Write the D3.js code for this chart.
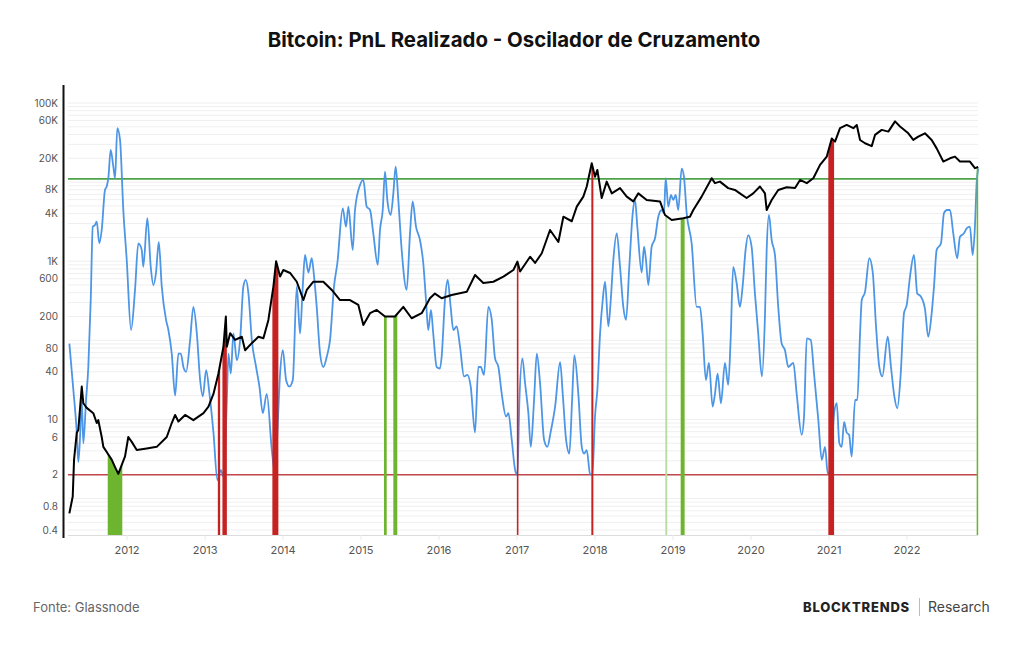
<!DOCTYPE html>
<html>
<head>
<meta charset="utf-8">
<script src="https://cdn.jsdelivr.net/npm/d3@7"></script>
<style>
  body { margin: 0; background: #fff; }
  svg { display: block; font-family: Inter, "Noto Sans", sans-serif; }
</style>
</head>
<body>
<div id="chart"></div>
<script>
// y axis tick labels (log scale)
const yTicks = [0.4, 0.8, 2, 6, 10, 40, 80, 200, 600, 1000, 4000, 8000, 20000, 60000, 100000];
const years = [2012, 2013, 2014, 2015, 2016, 2017, 2018, 2019, 2020, 2021, 2022];

// oscillator bands
const upperBand = 11000;
const lowerBand = 2;

// BTC price [decimal year, USD]
const price = [
  [2011.267,0.65],[2011.310,1.06],[2011.327,3.1],[2011.362,6.8],[2011.382,7.4],[2011.426,26],[2011.446,16],
  [2011.490,14],[2011.574,12],[2011.618,9],[2011.638,9.8],[2011.682,6],[2011.703,4.5],[2011.767,3.6],
  [2011.810,3.1],[2011.853,2.5],[2011.895,2.05],[2011.938,2.65],[2011.981,3.4],[2012.023,6],[2012.067,5.2],
  [2012.131,4.1],[2012.259,4.3],[2012.387,4.5],[2012.515,6],[2012.579,9],[2012.622,11.4],[2012.664,9.4],
  [2012.750,11.4],[2012.856,9.8],[2012.985,12],[2013.049,14.5],[2013.113,21],[2013.177,38],[2013.241,83],
  [2013.272,200],[2013.285,83],[2013.327,123],[2013.391,101],[2013.477,111],[2013.519,75],[2013.605,92],
  [2013.690,111],[2013.754,106],[2013.818,181],[2013.882,478],[2013.917,1000],[2013.968,640],[2014.010,775],
  [2014.096,710],[2014.182,550],[2014.267,323],[2014.310,433],[2014.395,550],[2014.523,550],[2014.631,433],
  [2014.737,323],[2014.865,323],[2014.972,280],[2015.036,156],[2015.122,220],[2015.208,242],[2015.314,200],
  [2015.442,200],[2015.549,265],[2015.656,190],[2015.785,220],[2015.891,340],[2015.955,390],[2016.041,340],
  [2016.169,374],[2016.362,410],[2016.468,670],[2016.574,530],[2016.703,550],[2016.831,640],[2016.959,775],
  [2017.010,990],[2017.045,740],[2017.173,1140],[2017.237,950],[2017.323,1260],[2017.429,2480],[2017.536,1750],
  [2017.600,3650],[2017.708,3200],[2017.772,4900],[2017.856,6550],[2017.900,8800],[2017.964,17300],
  [2018.006,11700],[2018.036,14250],[2018.092,6300],[2018.156,10150],[2018.221,7200],[2018.327,8400],
  [2018.413,6550],[2018.497,5700],[2018.562,7200],[2018.669,5950],[2018.840,5700],[2018.904,3840],
  [2018.990,3320],[2019.138,3500],[2019.224,3650],[2019.267,4440],[2019.374,6550],[2019.503,11200],
  [2019.545,9700],[2019.609,10150],[2019.715,8400],[2019.801,7960],[2019.865,7200],[2019.951,6300],
  [2020.036,7200],[2020.122,8800],[2020.186,7200],[2020.208,4440],[2020.272,5950],[2020.356,7960],
  [2020.464,8600],[2020.571,8400],[2020.635,10650],[2020.721,9700],[2020.805,11200],[2020.891,16500],
  [2020.977,21000],[2021.041,35500],[2021.083,32500],[2021.147,48000],[2021.233,52800],[2021.318,48000],
  [2021.362,52800],[2021.404,34100],[2021.468,31000],[2021.554,28500],[2021.596,39500],[2021.682,45700],
  [2021.767,43500],[2021.853,58500],[2021.917,50500],[2022.023,41400],[2022.087,34100],[2022.151,37500],
  [2022.237,41400],[2022.323,34100],[2022.387,26700],[2022.472,18200],[2022.558,20000],[2022.622,21000],
  [2022.686,18200],[2022.814,18200],[2022.878,15000],[2022.920,15500]
];

// realized PnL crossover oscillator [decimal year, value]
const oscillator = [
  [2011.267,91],[2011.318,23.6],[2011.362,6.8],[2011.382,2.9],[2011.404,6],[2011.426,17.6],[2011.446,5],
  [2011.481,17.6],[2011.510,46],[2011.541,323],[2011.567,2730],[2011.596,2870],[2011.618,3170],[2011.651,1680],
  [2011.682,2480],[2011.724,7960],[2011.746,8800],[2011.767,11200],[2011.797,25500],[2011.831,15700],
  [2011.853,11200],[2011.882,48000],[2011.917,34100],[2011.959,4440],[2012.003,1035],[2012.058,135],
  [2012.109,433],[2012.151,1680],[2012.195,1390],[2012.215,850],[2012.267,3500],[2012.310,850],[2012.344,500],
  [2012.378,720],[2012.413,1750],[2012.451,480],[2012.506,181],[2012.536,135],[2012.579,68],[2012.622,20],
  [2012.664,68],[2012.695,68],[2012.728,46],[2012.763,40],[2012.814,101],[2012.856,265],[2012.900,122],
  [2012.942,31.5],[2012.977,19.5],[2013.019,42],[2013.062,21],[2013.113,6.8],[2013.164,1.71],[2013.208,2.29],
  [2013.241,1.9],[2013.285,17.6],[2013.305,68],[2013.336,38],[2013.369,122],[2013.413,56],[2013.455,101],
  [2013.497,480],[2013.528,580],[2013.562,390],[2013.605,101],[2013.660,46],[2013.703,26],[2013.746,12],
  [2013.797,21],[2013.862,4.1],[2013.904,2.05],[2013.933,6.8],[2013.968,38],[2014.003,75],[2014.045,31.5],
  [2014.087,26],[2014.131,31.5],[2014.182,480],[2014.224,122],[2014.259,480],[2014.288,1200],[2014.331,720],
  [2014.374,1090],[2014.404,640],[2014.438,265],[2014.481,68],[2014.523,46],[2014.567,62],[2014.609,101],
  [2014.660,480],[2014.703,950],[2014.772,4650],[2014.814,2730],[2014.844,4900],[2014.900,1390],[2014.929,4440],
  [2014.994,9200],[2015.036,10650],[2015.079,4900],[2015.122,4440],[2015.164,2250],[2015.221,900],
  [2015.250,2480],[2015.285,4440],[2015.314,13600],[2015.344,5950],[2015.387,3840],[2015.421,7200],
  [2015.451,15700],[2015.485,5950],[2015.528,1390],[2015.592,433],[2015.635,2250],[2015.669,5700],
  [2015.712,2730],[2015.763,1850],[2015.805,950],[2015.840,323],[2015.869,135],[2015.904,242],[2015.933,122],
  [2015.977,46],[2016.019,44],[2016.041,62],[2016.083,323],[2016.118,580],[2016.156,265],[2016.190,135],
  [2016.233,150],[2016.276,83],[2016.327,35],[2016.369,36.5],[2016.413,26],[2016.468,6.8],[2016.510,46],
  [2016.541,46],[2016.583,36.5],[2016.638,265],[2016.682,181],[2016.724,59],[2016.767,46],[2016.810,21],
  [2016.865,10.9],[2016.895,12],[2016.938,5.5],[2016.981,2.29],[2017.010,1.98],[2017.036,17.6],[2017.074,59],
  [2017.109,28.5],[2017.151,12],[2017.182,4.5],[2017.224,17.6],[2017.259,68],[2017.301,28.5],[2017.353,5.5],
  [2017.395,4.5],[2017.438,7],[2017.494,14.5],[2017.558,53],[2017.592,21],[2017.635,5.5],[2017.677,3.7],
  [2017.712,17.6],[2017.741,65],[2017.792,21],[2017.836,4.5],[2017.865,3.7],[2017.900,4.1],[2017.942,2.05],
  [2017.972,1.98],[2018.006,10.9],[2018.036,23.6],[2018.071,122],[2018.105,323],[2018.135,550],[2018.177,150],
  [2018.208,323],[2018.241,1035],[2018.285,2250],[2018.327,850],[2018.369,265],[2018.404,181],[2018.446,850],
  [2018.490,4050],[2018.519,5950],[2018.549,2730],[2018.605,720],[2018.635,1530],[2018.660,1035],
  [2018.690,500],[2018.733,1530],[2018.776,1950],[2018.818,3650],[2018.862,4440],[2018.891,4050],
  [2018.913,11200],[2018.946,4900],[2018.981,6880],[2019.010,5950],[2019.041,6880],[2019.074,4440],
  [2019.118,14800],[2019.147,11700],[2019.182,4050],[2019.246,1680],[2019.310,265],[2019.353,265],
  [2019.387,122],[2019.429,31.5],[2019.468,52],[2019.515,14.5],[2019.545,21],[2019.579,38],[2019.622,16],
  [2019.673,52],[2019.715,27.3],[2019.746,101],[2019.779,850],[2019.823,530],[2019.865,265],[2019.900,480],
  [2019.938,1390],[2019.972,2140],[2020.015,1530],[2020.058,390],[2020.100,122],[2020.147,35],[2020.186,200],
  [2020.208,1390],[2020.237,3840],[2020.272,1850],[2020.314,1200],[2020.356,265],[2020.400,91],[2020.442,75],
  [2020.485,46],[2020.549,52],[2020.592,21],[2020.656,6.4],[2020.686,10.9],[2020.721,106],[2020.772,101],
  [2020.814,38],[2020.869,9.8],[2020.913,3.07],[2020.955,4.5],[2020.990,2.05],[2021.028,2.5],[2021.071,12],
  [2021.105,16],[2021.138,5],[2021.169,4.5],[2021.199,9.3],[2021.233,6.8],[2021.263,6.4],[2021.297,3.4],
  [2021.340,17.6],[2021.369,17.6],[2021.404,122],[2021.426,323],[2021.468,410],[2021.523,1090],[2021.567,720],
  [2021.609,150],[2021.651,46],[2021.690,35],[2021.759,111],[2021.801,46],[2021.844,19.5],[2021.882,13.8],
  [2021.926,38],[2021.968,220],[2022.003,280],[2022.045,640],[2022.096,1200],[2022.138,390],[2022.182,360],
  [2022.237,250],[2022.279,111],[2022.323,220],[2022.353,480],[2022.387,1390],[2022.442,1680],[2022.481,4050],
  [2022.519,4440],[2022.558,4440],[2022.600,2250],[2022.651,1090],[2022.686,2040],[2022.737,2250],
  [2022.772,2600],[2022.814,2730],[2022.849,1200],[2022.878,2730],[2022.900,9700],[2022.920,14800]
];

// crossover signals [start, end, kind]
const signals = [
  [2011.759, 2011.946, "buy"],
  [2013.169, 2013.199, "sell"],
  [2013.228, 2013.285, "sell"],
  [2013.869, 2013.946, "sell"],
  [2015.301, 2015.336, "buy"],
  [2015.421, 2015.472, "buy"],
  [2017.003, 2017.023, "sell"],
  [2017.959, 2017.985, "sell"],
  [2018.908, 2018.933, "weak"],
  [2019.105, 2019.156, "buy"],
  [2020.997, 2021.071, "sell"],
  [2022.900, 2022.933, "buy"]
];

const colors = { sell: "#c62222", buy: "#6db52f", weak: "#b9dda0" };

const toDate = t => {
  const yr = Math.floor(t);
  const a = Date.UTC(yr, 0, 1), b = Date.UTC(yr + 1, 0, 1);
  return new Date(a + (t - yr) * (b - a));
};

let width = 1024,
  height = 645,
  plot = ({ left: 68, right: 978, top: 85, bottom: 535 });

let x = d3.scaleUtc()
  .domain([toDate(2012), toDate(2022)])
  .range([126.5, 906.5]);

let y = d3.scaleLog()
  .domain([0.4, 100000])
  .range([530, 103]);

const svg = d3.select("#chart")
  .append("svg")
  .attr("width", width)
  .attr("height", height)
  .attr("viewBox", [0, 0, width, height]);

// title
svg.append("text")
  .attr("x", 514)
  .attr("y", 47)
  .attr("text-anchor", "middle")
  .attr("font-size", 20.4)
  .attr("font-weight", 700)
  .attr("fill", "#111")
  .text("Bitcoin: PnL Realizado - Oscilador de Cruzamento");

// faint log gridlines
let grid = [];
for (let e = -1; e <= 5; e++)
  for (let m = 1; m <= 9; m++) {
    let v = m * Math.pow(10, e);
    if (y(v) <= plot.bottom - 2 && y(v) >= plot.top + 8) grid.push(v);
  }

svg.append("g")
  .selectAll("line")
  .data(grid)
  .join("line")
  .attr("x1", plot.left)
  .attr("x2", plot.right)
  .attr("y1", d => y(d))
  .attr("y2", d => y(d))
  .attr("stroke", "#efefef")
  .attr("stroke-width", 1);

// x axis
svg.append("g")
  .attr("transform", `translate(0,${plot.bottom})`)
  .call(d3.axisBottom(x)
    .tickValues(years.map(toDate))
    .tickFormat(d3.utcFormat("%Y"))
    .tickSize(5)
    .tickPadding(6))
  .call(g => g.select(".domain")
    .attr("d", `M${plot.left},0.5H${plot.right}`)
    .attr("stroke", "#dcdcdc"))
  .call(g => g.selectAll(".tick line").attr("stroke", "#eaeaea"))
  .call(g => g.selectAll(".tick text")
    .attr("font-family", "Inter, sans-serif")
    .attr("font-size", 11)
    .attr("fill", "#555"));

// y axis labels
svg.append("g")
  .attr("transform", `translate(${plot.left - 5},0)`)
  .call(d3.axisLeft(y)
    .tickValues(yTicks)
    .tickFormat(d => d >= 1000 ? d / 1000 + "K" : d)
    .tickSize(0)
    .tickPadding(5))
  .call(g => g.select(".domain").remove())
  .call(g => g.selectAll(".tick text")
    .attr("font-family", "Inter, sans-serif")
    .attr("font-size", 10)
    .attr("fill", "#555"));

svg.append("line")
  .attr("x1", 63.5).attr("x2", 63.5)
  .attr("y1", plot.top).attr("y2", plot.bottom + 3)
  .attr("stroke", "#111")
  .attr("stroke-width", 2);

// band lines
svg.append("line")
  .attr("x1", plot.left).attr("x2", plot.right)
  .attr("y1", y(upperBand)).attr("y2", y(upperBand))
  .attr("stroke", "#4ea34a").attr("stroke-width", 1.6);

svg.append("line")
  .attr("x1", plot.left).attr("x2", plot.right)
  .attr("y1", y(lowerBand)).attr("y2", y(lowerBand))
  .attr("stroke", "#c0474a").attr("stroke-width", 1.6);

// oscillator
let oscLine = d3.line()
  .x(d => x(toDate(d[0])))
  .y(d => y(d[1]))
  .curve(d3.curveMonotoneX);

svg.append("path")
  .datum(oscillator)
  .attr("fill", "none")
  .attr("stroke", "#4d96e6")
  .attr("stroke-width", 1.8)
  .attr("d", oscLine);

// signal bars: area under the price clipped to each signal window
let under = d3.area()
  .x(d => x(toDate(d[0])))
  .y0(plot.bottom)
  .y1(d => y(d[1]));

for (let kind of ["weak", "buy", "sell"]) {
  let id = "clip-" + kind;
  svg.append("clipPath")
    .attr("id", id)
    .selectAll("rect")
    .data(signals.filter(s => s[2] === kind))
    .join("rect")
    .attr("x", d => x(toDate(d[0])))
    .attr("width", d => Math.max(1.6, x(toDate(d[1])) - x(toDate(d[0]))))
    .attr("y", plot.top)
    .attr("height", plot.bottom - plot.top);

  svg.append("path")
    .datum(price)
    .attr("clip-path", `url(#${id})`)
    .attr("fill", colors[kind])
    .attr("d", under);
}

// price
let priceLine = d3.line()
  .x(d => x(toDate(d[0])))
  .y(d => y(d[1]));

svg.append("path")
  .datum(price)
  .attr("fill", "none")
  .attr("stroke", "#000")
  .attr("stroke-width", 2)
  .attr("stroke-linejoin", "round")
  .attr("d", priceLine);

// footer
svg.append("text")
  .attr("x", 33)
  .attr("y", 612)
  .attr("font-size", 13)
  .attr("fill", "#666")
  .text("Fonte: Glassnode");

svg.append("text")
  .attr("x", 803)
  .attr("y", 612)
  .attr("font-size", 13)
  .attr("font-weight", 800)
  .attr("letter-spacing", 0.8)
  .attr("fill", "#222")
  .text("BLOCKTRENDS");

svg.append("line")
  .attr("x1", 919.5).attr("x2", 919.5)
  .attr("y1", 598).attr("y2", 616)
  .attr("stroke", "#bbb");

svg.append("text")
  .attr("x", 928)
  .attr("y", 612)
  .attr("font-size", 14)
  .attr("fill", "#444")
  .text("Research");
</script>
</body>
</html>
